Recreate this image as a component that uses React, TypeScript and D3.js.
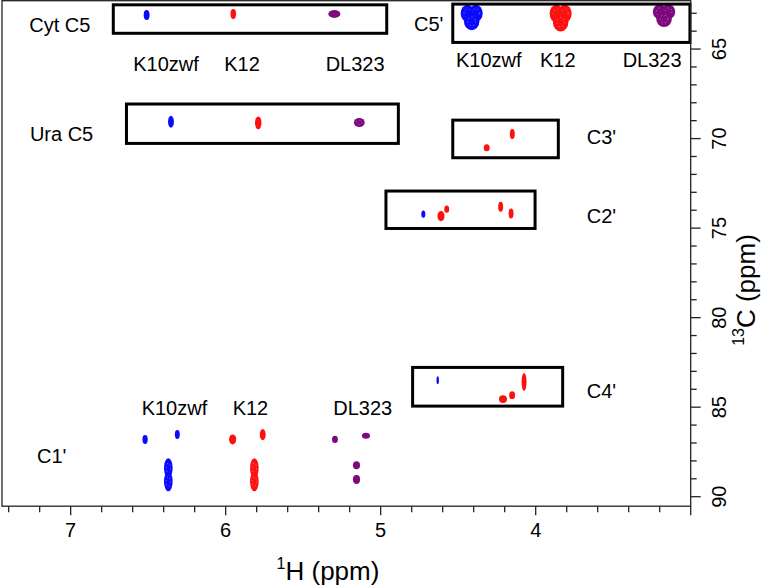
import React from "react";
import * as d3 from "d3";

// ---------- data ----------
const strains = ["K10zwf", "K12", "DL323"];
const strainColors = ["#0a0aff", "#ff1010", "#7e087e"];

// spectral window (ppm)
const hDomain = [7.443, 3.0];
const cDomain = [62.3, 90.53];

const xTickLabels = [7, 6, 5, 4];
const yTickLabels = [65, 70, 75, 80, 85, 90];

// cross peaks: [strain, 1H ppm, 13C ppm, half-width 1H, half-width 13C]
const cytC5Peaks = [
  [0, 6.51, 63.1, 0.019, 0.28],
  [1, 5.951, 63.04, 0.018, 0.28],
  [2, 5.299, 63.04, 0.039, 0.22],
];
const uraC5Peaks = [
  [0, 6.353, 69.06, 0.019, 0.34],
  [1, 5.79, 69.12, 0.021, 0.36],
  [2, 5.138, 69.1, 0.035, 0.25],
];
const c5pPeaks = [
  [0, 4.44, 63.0, 0.044, 0.48], [0, 4.386, 63.0, 0.044, 0.48], [0, 4.413, 63.45, 0.05, 0.5],
  [1, 3.866, 63.02, 0.044, 0.5], [1, 3.812, 63.02, 0.044, 0.5], [1, 3.839, 63.5, 0.05, 0.52],
  [2, 3.2, 62.92, 0.044, 0.42], [2, 3.144, 62.92, 0.044, 0.42], [2, 3.172, 63.32, 0.05, 0.45],
];
const c3pPeaks = [
  [1, 4.316, 70.51, 0.019, 0.2],
  [1, 4.151, 69.75, 0.016, 0.28],
];
const c2pPeaks = [
  [0, 4.725, 74.22, 0.013, 0.2],
  [1, 4.611, 74.33, 0.023, 0.28],
  [1, 4.574, 73.94, 0.016, 0.2],
  [1, 4.226, 73.81, 0.016, 0.28],
  [1, 4.159, 74.18, 0.016, 0.28],
];
const c4pPeaks = [
  [0, 4.632, 83.49, 0.008, 0.22],
  [1, 4.211, 84.55, 0.026, 0.22],
  [1, 4.152, 84.33, 0.019, 0.22],
  [1, 4.075, 83.59, 0.016, 0.5],
];
const c1pPeaks = [
  [0, 6.52, 86.8, 0.017, 0.25],
  [0, 6.312, 86.53, 0.016, 0.25],
  [0, 6.37, 88.4, 0.028, 0.55],
  [0, 6.37, 89.15, 0.028, 0.55],
  [1, 5.955, 86.8, 0.023, 0.28],
  [1, 5.761, 86.53, 0.019, 0.31],
  [1, 5.815, 88.4, 0.028, 0.55],
  [1, 5.815, 89.15, 0.028, 0.55],
  [2, 5.295, 86.8, 0.019, 0.2],
  [2, 5.095, 86.6, 0.026, 0.17],
  [2, 5.156, 88.24, 0.023, 0.22],
  [2, 5.156, 89.04, 0.023, 0.25],
];

// boxed regions: [H left, H right, C top, C bottom]
const regionBoxes = [
  [6.725, 4.961, 62.53, 64.12], // Cyt C5
  [6.64, 4.886, 68.07, 70.27], // Ura C5
  [4.535, 3.005, 62.49, 64.63], // C5'
  [4.535, 3.854, 68.97, 71.07], // C3'
  [4.966, 4.004, 72.93, 75.02], // C2'
  [4.794, 3.826, 82.78, 84.94], // C4'
];

// assignment labels: [text, H ppm (left), C ppm (baseline)]
const regionLabels = [
  ["Cyt C5", 7.267, 64.05],
  ["Ura C5", 7.263, 70.14],
  ["C5'", 4.785, 63.99],
  ["C3'", 3.671, 70.31],
  ["C2'", 3.671, 74.72],
  ["C4'", 3.671, 84.5],
  ["C1'", 7.217, 88.13],
];

// strain label rows: [H ppm of each strain label], C ppm baseline
const strainLabelRows = [
  { h: [6.596, 6.009, 5.355], c: 66.21 },
  { h: [4.514, 3.972, 3.439], c: 65.99 },
  { h: [6.542, 5.955, 5.306], c: 85.41 },
];

const allPeaks = [
  ...cytC5Peaks, ...uraC5Peaks, ...c5pPeaks, ...c3pPeaks,
  ...c2pPeaks, ...c4pPeaks, ...c1pPeaks,
];

// ---------- component ----------
const W = 774;
const H = 587;
const FONT = "'Liberation Sans', Arial, Helvetica, sans-serif";

export default function App() {
  const x = d3.scaleLinear().domain(hDomain).range([2, 690.7]);
  const y = d3.scaleLinear().domain(cDomain).range([0.7, 506.2]);

  const xTicks = d3.range(15, 38).map((i) => i / 5);
  const yTicks = d3.range(63, 91);

  const [x0, x1] = x.range();
  const [y0, y1] = y.range();

  return (
    <svg
      width={W}
      height={H}
      style={{ position: "absolute", left: 0, top: 0, background: "#fff" }}
      fontFamily={FONT}
    >
      <rect x={0} y={0} width={W} height={H} fill="#fff" />

      {/* peaks */}
      <g>
        {allPeaks.map((p, i) => {
          const [s, hv, cv, rh, rc] = p as number[];
          const cx = x(hv);
          const cy = y(cv);
          const rx = Math.abs(x(hv - rh) - cx);
          const ry = Math.abs(y(cv + rc) - cy);
          return (
            <g key={i}>
              <ellipse cx={cx} cy={cy} rx={rx} ry={ry} fill={strainColors[s]} />
              {rx > 4 && ry > 4 ? (
                <ellipse
                  cx={cx}
                  cy={cy}
                  rx={rx * 0.5}
                  ry={ry * 0.5}
                  fill="none"
                  stroke="#fff"
                  strokeOpacity={0.55}
                  strokeWidth={0.7}
                  strokeDasharray="1.2 2.6"
                />
              ) : null}
            </g>
          );
        })}
      </g>

      {/* region boxes */}
      <g fill="none" stroke="#000" strokeWidth={3}>
        {regionBoxes.map((b, i) => {
          const [ha, hb, ca, cb] = b;
          return (
            <rect
              key={i}
              x={x(ha)}
              y={y(ca)}
              width={x(hb) - x(ha)}
              height={y(cb) - y(ca)}
            />
          );
        })}
      </g>

      {/* labels */}
      <g fontSize={20} fill="#000">
        {regionLabels.map((l, i) => (
          <text key={i} x={x(l[1] as number)} y={y(l[2] as number)}>
            {l[0]}
          </text>
        ))}
        {strainLabelRows.map((row, i) =>
          row.h.map((hv, j) => (
            <text key={`${i}-${j}`} x={x(hv)} y={y(row.c)}>
              {strains[j]}
            </text>
          ))
        )}
      </g>

      {/* frame */}
      <rect
        x={x0}
        y={y0}
        width={x1 - x0}
        height={y1 - y0}
        fill="none"
        stroke="#222"
        strokeWidth={1.3}
      />

      {/* x axis ticks */}
      <g stroke="#222" strokeWidth={1.3}>
        {xTicks.map((t, i) => {
          const major = Math.abs(t - Math.round(t)) < 1e-6;
          return (
            <line key={i} x1={x(t)} x2={x(t)} y1={y1} y2={y1 + (major ? 9 : 6)} />
          );
        })}
      </g>
      <g fontSize={20} textAnchor="middle" fill="#000">
        {xTickLabels.map((t) => (
          <text key={t} x={x(t)} y={537}>
            {t}
          </text>
        ))}
      </g>
      <text x={328} y={580} fontSize={26} textAnchor="middle" fill="#000">
        <tspan fontSize={16} dy={-11}>1</tspan>
        <tspan dy={11}>H (ppm)</tspan>
      </text>

      {/* y axis (right) */}
      <g stroke="#222" strokeWidth={1.3}>
        {yTicks.map((t) => (
          <line key={t} x1={x1} x2={x1 + (t % 5 === 0 ? 10 : 6)} y1={y(t)} y2={y(t)} />
        ))}
      </g>
      <g fontSize={20} textAnchor="middle" fill="#000">
        {yTickLabels.map((t) => (
          <text key={t} transform={`translate(726,${y(t)}) rotate(-90)`}>
            {t}
          </text>
        ))}
      </g>
      <text
        transform={`translate(755,290) rotate(-90)`}
        fontSize={26}
        textAnchor="middle"
        fill="#000"
      >
        <tspan fontSize={16} dy={-11}>13</tspan>
        <tspan dy={11}>C (ppm)</tspan>
      </text>
    </svg>
  );
}
